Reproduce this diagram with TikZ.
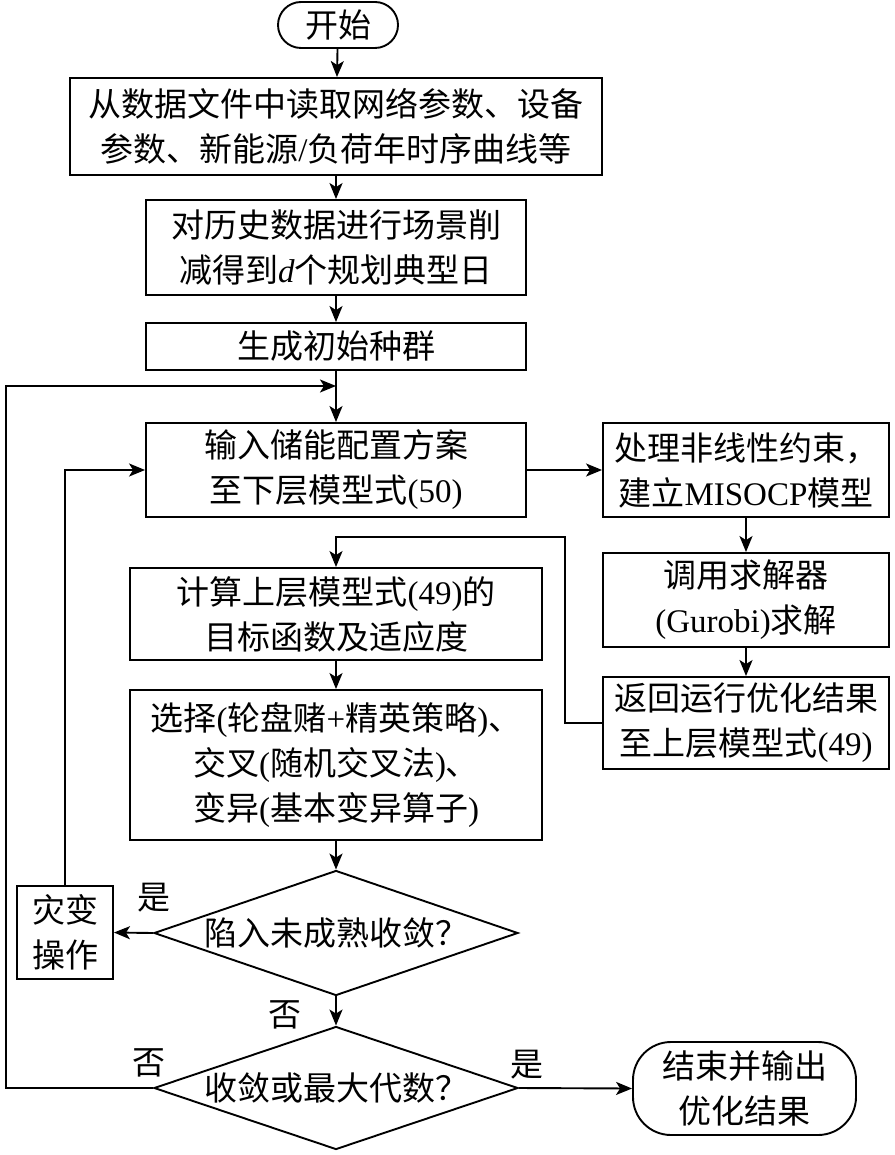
\documentclass[tikz,border=0pt]{standalone}
\usepackage{fontspec}
\setmainfont{Liberation Serif}
\newfontfamily\cjk{Noto Sans CJK SC}
\usetikzlibrary{arrows.meta,shapes.geometric}
\newcommand\C[1]{{\cjk #1}}
\begin{document}
\begin{tikzpicture}[x=1pt,y=-1pt,
  every node/.style={font=\fontsize{33}{45}\selectfont},
  box/.style={draw,line width=1.9pt,inner sep=0pt,align=center},
  pill/.style={box,rounded corners=#1},
  dia/.style={draw,line width=1.9pt,diamond,inner sep=0pt},
  lbl/.style={inner sep=0pt},
  arr/.style={line width=1.9pt,-{Stealth[length=16pt,width=13pt,inset=4pt]}}]
\useasboundingbox (0,0) rectangle (894,1155);

\node[pill=23pt,minimum width=120pt,minimum height=46pt] (start) at (338,25) {\C{开始}};
\node[box,minimum width=532pt,minimum height=97pt] (b1) at (336,126.5)
  {\C{从数据文件中读取网络参数、设备}\\\C{参数、新能源}/\C{负荷年时序曲线等}};
\node[box,minimum width=380pt,minimum height=95pt] (b2) at (336,247.5)
  {\C{对历史数据进行场景削}\\\C{减得到}\textit{d}\C{个规划典型日}};
\node[box,minimum width=380pt,minimum height=47pt] (b3) at (336,346.5) {\C{生成初始种群}};
\node[box,minimum width=380pt,minimum height=94pt] (b4) at (336,470)
  {\C{输入储能配置方案}\\\C{至下层模型式}(50)};
\node[box,minimum width=286pt,minimum height=94pt] (b5) at (746,470)
  {\C{处理非线性约束，}\\\C{建立}MISOCP\C{模型}};
\node[box,minimum width=286pt,minimum height=94pt] (b6) at (746,600)
  {\C{调用求解器}\\(Gurobi)\C{求解}};
\node[box,minimum width=286pt,minimum height=92pt] (b7) at (746,723)
  {\C{返回运行优化结果}\\\C{至上层模型式}(49)};
\node[box,minimum width=412pt,minimum height=92pt] (b8) at (336,614)
  {\C{计算上层模型式}(49)\C{的}\\\C{目标函数及适应度}};
\node[box,minimum width=412pt,minimum height=150pt] (b9) at (336,765)
  {\C{选择}(\C{轮盘赌}+\C{精英策略})\C{、}\\\C{交叉}(\C{随机交叉法})\C{、}\\\C{变异}(\C{基本变异算子})};
\node[dia,minimum width=364pt,minimum height=125pt] (d1) at (336,933) {};
\node[lbl] (d1t) at (336,933) {\C{陷入未成熟收敛？}};
\node[box,minimum width=96pt,minimum height=93pt] (b10) at (65,932.5) {\C{灾变}\\\C{操作}};
\node[dia,minimum width=364pt,minimum height=123pt] (d2) at (336,1088) {};
\node[lbl] (d2t) at (336,1088) {\C{收敛或最大代数？}};
\node[pill=38pt,minimum width=223pt,minimum height=93pt] (end) at (744.5,1088.5)
  {\C{结束并输出}\\\C{优化结果}};

\node[lbl] (y1) at (154,898) {\C{是}};
\node[lbl] (n1) at (285,1015) {\C{否}};
\node[lbl] (n2) at (149,1063) {\C{否}};
\node[lbl] (y2) at (527,1065) {\C{是}};

\coordinate (J) at (336,386);
\coordinate (L) at (6,386);
\coordinate (K) at (565,537);

\draw[arr] (start) -- (b1);
\draw[arr] (b1) -- (b2);
\draw[arr] (b2) -- (b3);
\draw[arr] (b3) -- (b4);
\draw[arr] (b4.east) -- (b5.west);
\draw[arr] (b5) -- (b6);
\draw[arr] (b6) -- (b7);
\draw[arr] (b7.west) -| (K) -| (b8.north);
\draw[arr] (b8) -- (b9);
\draw[arr] (b9) -- (d1);
\draw[arr] (d1.west) -- (b10.east);
\draw[arr] (b10.north) |- (b4.west);
\draw[arr] (d1.south) -- (d2.north);
\draw[arr] (d2.east) -- (end.west);
\draw[arr] (d2.west) -| (L) -- (J);
\end{tikzpicture}
\end{document}
